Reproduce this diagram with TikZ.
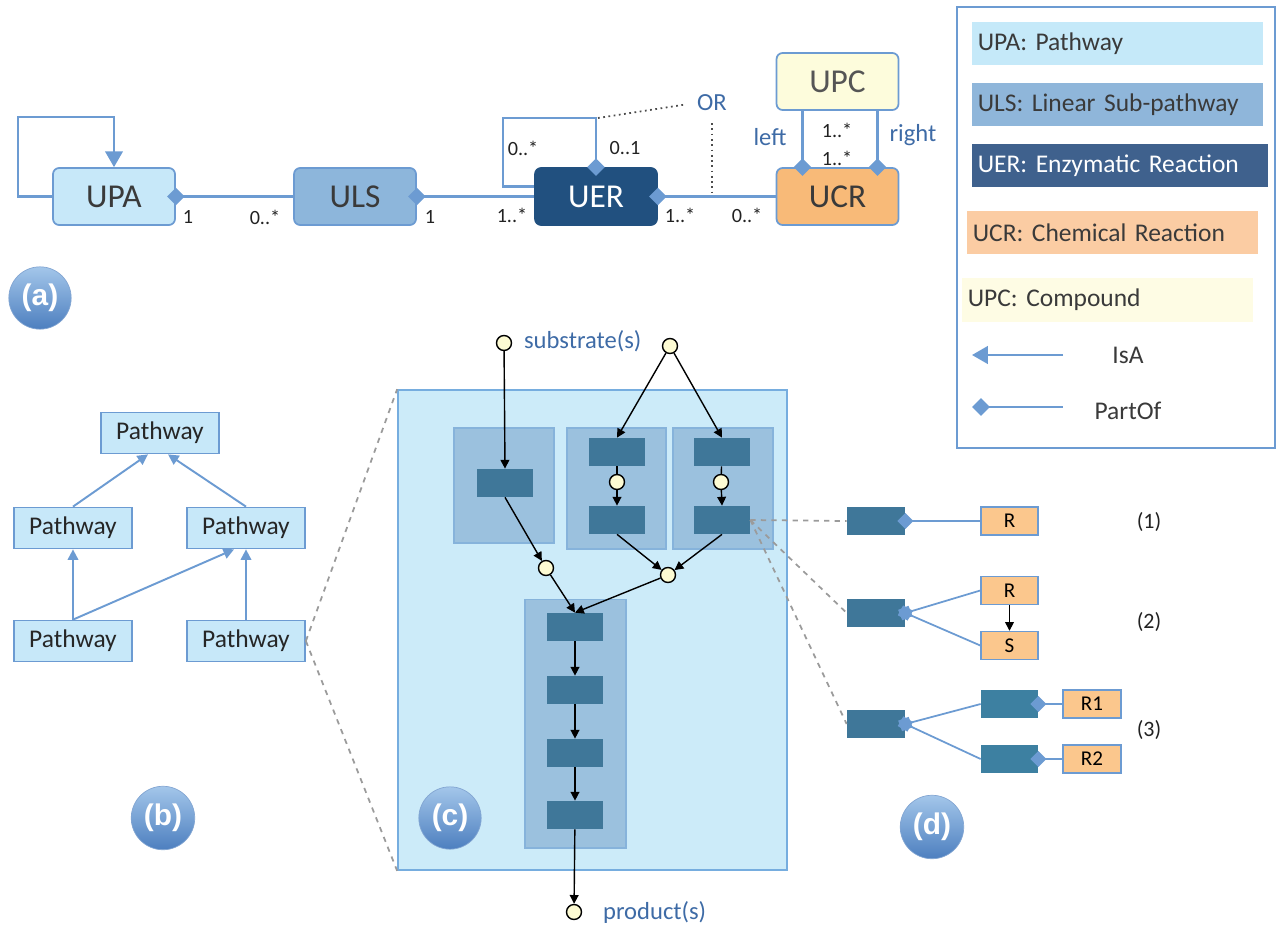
\documentclass[tikz,border=0pt]{standalone}
\usepackage{fontspec}
\setmainfont{Carlito}
\newfontfamily\tagfont{Liberation Sans}
\usetikzlibrary{arrows.meta}

\definecolor{lineblue}{HTML}{6C9BD2}
\definecolor{upafill}{HTML}{C7E8F9}
\definecolor{ulsfill}{HTML}{8DB6DB}
\definecolor{uerfill}{HTML}{21507F}
\definecolor{ucrfill}{HTML}{F8BA78}
\definecolor{upcfill}{HTML}{FDFCDC}
\definecolor{darktext}{HTML}{3A3A3A}
\definecolor{upctext}{HTML}{555555}
\definecolor{multtext}{HTML}{222222}
\definecolor{notetext}{HTML}{3E6BA6}
\definecolor{keyupa}{HTML}{C5E9F9}
\definecolor{keyuls}{HTML}{8FB6DA}
\definecolor{keyuer}{HTML}{3F618D}
\definecolor{keyucr}{HTML}{FBCCA3}
\definecolor{keyupc}{HTML}{FEFCE4}
\definecolor{cfill}{HTML}{CCEBF9}
\definecolor{boxedge}{HTML}{76ADDF}
\definecolor{groupfill}{HTML}{9BC1DE}
\definecolor{groupedge}{HTML}{86B3DB}
\definecolor{enzfill}{HTML}{3F7799}
\definecolor{enzlight}{HTML}{3D80A1}
\definecolor{cpdfill}{HTML}{FDFBD3}
\definecolor{reacfill}{HTML}{FBC78D}
\definecolor{zoomgray}{HTML}{9B9B9B}
\definecolor{tagtop}{HTML}{A3C6EA}
\definecolor{tagbot}{HTML}{4D7FBF}

\tikzset{
	unit/.style = {draw = lineblue, line width = 1pt, rounded corners = 3.5pt,
				   minimum width = 2.44cm, minimum height = 1.14cm,
				   font = \fontsize{19}{23}\selectfont},
	mult/.style = {text = multtext, inner sep = 1pt,
				   font = \fontsize{11.5}{13}\selectfont},
	note/.style = {text = notetext, inner sep = 1pt,
				   font = \fontsize{14}{16}\selectfont},
	key/.style = {anchor = west, minimum height = 0.88cm, text width = 5.6cm,
				  inner xsep = 0.11cm, align = left, text = darktext,
				  font = \fontsize{14.5}{17}\selectfont},
	pathway/.style = {draw = lineblue, line width = 1pt, fill = upafill,
					  minimum width = 2.36cm, minimum height = 0.82cm,
					  text = black!85, font = \fontsize{14.5}{17}\selectfont},
	group/.style = {draw = groupedge, fill = groupfill, line width = 0.6pt},
	enz/.style = {fill = enzfill, minimum width = 1.12cm,
				  minimum height = 0.56cm, inner sep = 0pt},
	reac/.style = {draw = lineblue, line width = 0.8pt, fill = reacfill,
				   minimum width = 1.14cm, minimum height = 0.56cm,
				   inner sep = 0pt, font = \fontsize{12}{14}\selectfont},
	compound/.style = {circle, draw = black, fill = cpdfill, line width = 0.8pt,
					   minimum size = 0.3cm, inner sep = 0pt},
	tag/.style = {circle, minimum size = 1.22cm, top color = tagtop,
				  bottom color = tagbot, draw = tagbot!70!white, text = white,
				  font = \tagfont\bfseries\fontsize{17}{20}\selectfont},
	partof/.style = {draw = lineblue, line width = 1.3pt,
					 {Diamond[length = 10pt, width = 10pt]}-, shorten <= -5pt},
	partofD/.style = {draw = lineblue, line width = 1pt,
					  {Diamond[length = 9pt, width = 9pt]}-, shorten <= -4.5pt},
	isa/.style = {draw = lineblue, line width = 1.3pt,
				  -{Triangle[length = 9pt, width = 10pt]}},
	isaB/.style = {draw = lineblue, line width = 1.1pt,
				   -{Triangle[length = 6pt, width = 6pt]}},
	flow/.style = {draw = black, line width = 0.8pt,
				   -{Triangle[length = 5pt, width = 5pt]}},
	orline/.style = {draw = black!70, dotted, line width = 1pt},
	zoomline/.style = {draw = zoomgray, dashed, line width = 1pt}
}

\begin{document}
\begin{tikzpicture}[x = 0.02cm, y = -0.02cm]
	\useasboundingbox (0,0) rectangle (1280,929);

	% (a) the model
	\draw (114,196.5) node[unit, fill = upafill, text = darktext] (UPA) {UPA};
	\draw (355,196.5) node[unit, fill = ulsfill, text = darktext] (ULS) {ULS};
	\draw (596,196.5) node[unit, fill = uerfill, draw = uerfill,
						   text = white] (UER) {UER};
	\draw (837.5,196.5) node[unit, fill = ucrfill, text = darktext] (UCR) {UCR};
	\draw (837.5,81.5) node[unit, fill = upcfill, text = upctext] (UPC) {UPC};

	\draw[isa] (UPA.west) -| (18,117) -| (UPA.north);
	\draw[partof] (UPA.east) -- (ULS.west);
	\draw[partof] (ULS.east) -- (UER.west);
	\draw[partof] (UER.east) -- (UCR.west);
	\draw[partof] (UER.north) |- (503,118) |- ([yshift = 0.2cm]UER.west);
	\draw[partof] ([xshift = -0.7cm]UCR.north) -- ([xshift = -0.7cm]UPC.south);
	\draw[partof] ([xshift = 0.8cm]UCR.north) -- ([xshift = 0.8cm]UPC.south);

	\draw (712,103) node[note] (OR) {OR};
	\coordinate (loopTop) at (598,118);
	\draw[orline, shorten >= 0.2cm] (loopTop) -- (OR.west);
	\draw[orline] ([yshift = -0.2cm]OR.south) -- (OR.south |- UER.east);

	\draw (188,217) node[mult] (mUPA) {1};
	\draw (265,217) node[mult] (mULSa) {0..*};
	\draw (430,217) node[mult] (mULSb) {1};
	\draw (512,215) node[mult] (mUERa) {1..*};
	\draw (523,148) node[mult] (mLoopA) {0..*};
	\draw (625,148) node[mult] (mLoopB) {0..1};
	\draw (680,215) node[mult] (mUERb) {1..*};
	\draw (747,215) node[mult] (mUCR) {0..*};
	\draw (837,130) node[mult] (mUPCa) {1..*};
	\draw (837,158) node[mult] (mUPCb) {1..*};
	\draw (770,137) node[note] (left) {left};
	\draw (913,135) node[note] (right) {right};

	\draw (40,298) node[tag] (tagA) {(a)};

	% legend
	\draw (1116,227.5) node[draw = lineblue, line width = 1pt,
							minimum width = 6.36cm,
							minimum height = 8.82cm] (legend) {};
	\draw (972,43.5) node[key, fill = keyupa] (kUPA) {UPA: Pathway};
	\draw (972,104.5) node[key, fill = keyuls] (kULS) {ULS: Linear Sub-pathway};
	\draw (972,165.5) node[key, fill = keyuer, text = white,
						   text width = 5.7cm] (kUER) {UER: Enzymatic Reaction};
	\draw (967,232.5) node[key, fill = keyucr] (kUCR) {UCR: Chemical Reaction};
	\draw (962,300) node[key, fill = keyupc] (kUPC) {UPC: Compound};

	\coordinate (isaFrom) at (1063,355);
	\coordinate (isaTo) at (972,355);
	\draw[isa] (isaFrom) -- (isaTo);
	\draw (1128,355) node[text = darktext,
						  font = \fontsize{14.5}{17}\selectfont] (kIsA) {IsA};
	\coordinate (poFrom) at (981,407);
	\coordinate (poTo) at (1063,407);
	\draw[partof] (poFrom) -- (poTo);
	\draw (1128,411) node[text = darktext,
						  font = \fontsize{14.5}{17}\selectfont] (kPartOf) {PartOf};

	% (b) hierarchy
	\draw (160,433) node[pathway] (pTop) {Pathway};
	\draw (73,528) node[pathway] (pMidL) {Pathway};
	\draw (246,528) node[pathway] (pMidR) {Pathway};
	\draw (73,641) node[pathway] (pBotL) {Pathway};
	\draw (246,641) node[pathway] (pBotR) {Pathway};

	\draw[isaB] (pMidL.north) -- ([xshift = -0.24cm]pTop.south);
	\draw[isaB] (pMidR.north) -- ([xshift = 0.16cm]pTop.south);
	\draw[isaB] (pBotL.north) -- (pMidL.south);
	\draw[isaB] (pBotL.north) -- ([xshift = -0.24cm]pMidR.south);
	\draw[isaB] (pBotR.north) -- (pMidR.south);

	\draw (163,818) node[tag] (tagB) {(b)};

	% (c) one pathway
	\draw (592.5,630) node[draw = boxedge, line width = 1pt, fill = cfill,
						   minimum width = 7.78cm,
						   minimum height = 9.6cm] (bigbox) {};
	\draw[zoomline] (pBotR.east) -- (bigbox.north west);
	\draw[zoomline] (pBotR.east) -- (bigbox.south west);

	\draw (504,485.5) node[group, minimum width = 2cm,
						   minimum height = 2.3cm] (g1) {};
	\draw (616.5,488.5) node[group, minimum width = 1.98cm,
							 minimum height = 2.42cm] (g2) {};
	\draw (723,488.5) node[group, minimum width = 2cm,
						   minimum height = 2.42cm] (g3) {};
	\draw (575.5,723.5) node[group, minimum width = 2.02cm,
							 minimum height = 4.98cm] (g4) {};

	\draw (505,483) node[enz] (r1) {};
	\draw (617,452) node[enz] (r2a) {};
	\draw (617,520) node[enz] (r2b) {};
	\draw (722,452) node[enz] (r3a) {};
	\draw (722,520) node[enz] (r3b) {};
	\draw (575,627) node[enz] (r4a) {};
	\draw (575,690) node[enz] (r4b) {};
	\draw (575,753) node[enz] (r4c) {};
	\draw (575,815) node[enz] (r4d) {};

	\draw (504,343) node[compound] (sub1) {};
	\draw (670,346) node[compound] (sub2) {};
	\draw (617,482) node[compound] (c2) {};
	\draw (721,482) node[compound] (c3) {};
	\draw (546,568) node[compound] (j1) {};
	\draw (668,575) node[compound] (j2) {};
	\draw (574,912) node[compound] (prod) {};

	\draw[flow] (sub1) -- (r1.north);
	\draw[flow] (sub2) -- (r2a.north);
	\draw[flow] (sub2) -- (r3a.north);
	\draw[draw = black, line width = 0.8pt] (r2a) -- (c2);
	\draw[draw = black, line width = 0.8pt] (r3a) -- (c3);
	\draw[flow] (c2) -- (r2b.north);
	\draw[flow] (c3) -- (r3b.north);
	\draw[flow] (r1.south) -- (j1);
	\draw[flow] (r2b.south) -- (j2);
	\draw[flow] (r3b.south) -- (j2);
	\draw[flow] (j1) -- (r4a.north);
	\draw[flow] (j2) -- (r4a.north);
	\draw[flow] (r4a) -- (r4b);
	\draw[flow] (r4b) -- (r4c);
	\draw[flow] (r4c) -- (r4d);
	\draw[flow] (r4d) -- (prod);

	\draw (522,341) node[note, anchor = west] (subText) {substrate(s)};
	\draw (601,912) node[note, anchor = west] (prodText) {product(s)};

	\draw (450,818) node[tag] (tagC) {(c)};

	% (d) reaction kinds
	\draw (876,521) node[enz, minimum width = 1.16cm] (d1) {};
	\draw (876,613) node[enz, minimum width = 1.16cm] (d2) {};
	\draw (876,724) node[enz, minimum width = 1.16cm] (d3) {};
	\draw (1009.5,521) node[reac] (rA) {R};
	\draw (1009.5,590.5) node[reac] (rB) {R};
	\draw (1009.5,645.5) node[reac] (sB) {S};
	\draw (1009.5,704) node[enz, fill = enzlight, minimum width = 1.14cm] (m1) {};
	\draw (1009.5,759) node[enz, fill = enzlight, minimum width = 1.14cm] (m2) {};
	\draw (1092,704) node[reac, minimum width = 1.16cm] (rr1) {R1};
	\draw (1092,759) node[reac, minimum width = 1.16cm] (rr2) {R2};

	\draw[zoomline] (r3b.east) -- (d1.west);
	\draw[zoomline] (r3b.east) -- (d2.west);
	\draw[zoomline] (r3b.east) -- (d3.west);

	\draw[partofD] (d1.east) -- (rA.west);
	\draw[partofD] (d2.east) -- (rB.west);
	\draw[partofD] (d2.east) -- (sB.west);
	\draw[flow] (rB.south) -- (sB.north);
	\draw[partofD] (d3.east) -- (m1.west);
	\draw[partofD] (d3.east) -- (m2.west);
	\draw[partofD] (m1.east) -- (rr1.west);
	\draw[partofD] (m2.east) -- (rr2.west);

	\draw (1149,522) node[mult, font = \fontsize{12.5}{14}\selectfont] (n1) {(1)};
	\draw (1149,622) node[mult, font = \fontsize{12.5}{14}\selectfont] (n2) {(2)};
	\draw (1149,730) node[mult, font = \fontsize{12.5}{14}\selectfont] (n3) {(3)};

	\draw (932,827) node[tag] (tagD) {(d)};
\end{tikzpicture}
\end{document}
